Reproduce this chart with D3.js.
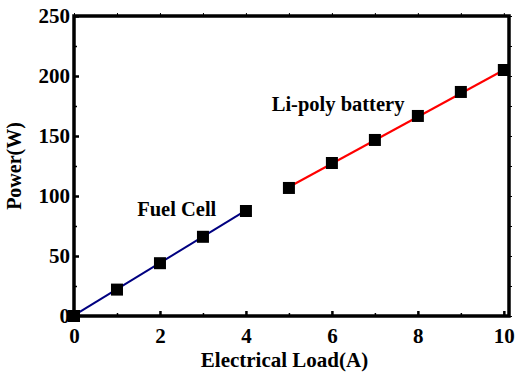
<!DOCTYPE html>
<html>
<head>
<meta charset="utf-8">
<script src="https://cdn.jsdelivr.net/npm/d3@7"></script>
<style>
  body { margin: 0; background: #fff; }
  text { font-family: "Liberation Serif", "Times New Roman", serif; font-weight: bold; fill: #000; }
</style>
</head>
<body>
<div id="chart"></div>
<script>
const fuelLoad = [0, 1, 2, 3, 4];
const fuelPower = [0, 22, 44, 66, 87.5];
const battLoad = [5, 6, 7, 8, 9, 10];
const battPower = [106.7, 127.5, 146.7, 166.7, 186.7, 205];
const fuelFit = [[0, 0.5], [4, 88]];
const battFit = [[5, 107.5], [10, 205]];
const xTicks = [0, 2, 4, 6, 8, 10];
const yTicks = [0, 50, 100, 150, 200, 250];

const margin = { top: 16, right: 9, bottom: 58, left: 74 };
const width = 518 - margin.left - margin.right;
const height = 374 - margin.top - margin.bottom;

const x = d3.scaleLinear().domain([0, 10.12]).range([0, width]);
const y = d3.scaleLinear().domain([0, 250]).range([height, 0]);

const svg = d3.select("#chart").append("svg")
    .attr("width", 518)
    .attr("height", 374)
  .append("g")
    .attr("transform", `translate(${margin.left},${margin.top})`);

const line = d3.line().x(d => x(d[0])).y(d => y(d[1]));

svg.append("path").datum(fuelFit)
    .attr("d", line).attr("fill", "none").attr("stroke", "#000080").attr("stroke-width", 2);
svg.append("path").datum(battFit)
    .attr("d", line).attr("fill", "none").attr("stroke", "#ff0000").attr("stroke-width", 2);

const pts = fuelLoad.map((v, i) => [v, fuelPower[i]])
    .concat(battLoad.map((v, i) => [v, battPower[i]]));
const s = 12;
svg.selectAll("rect.pt")
    .data(pts)
    .enter().append("rect")
    .attr("class", "pt")
    .attr("x", d => x(d[0]) - s / 2)
    .attr("y", d => y(d[1]) - s / 2)
    .attr("width", s)
    .attr("height", s)
    .attr("fill", "#000");

// axes: inward ticks on bottom/left, tiny marks on top/right
const axisStyle = w => g => {
    g.select(".domain").remove();
    g.selectAll(".tick line").attr("stroke", "#000").attr("stroke-width", w);
    g.selectAll("text").style("font-size", "21px");
};

svg.append("g")
    .attr("transform", `translate(0,${height})`)
    .call(d3.axisBottom(x).tickValues(xTicks).tickSize(-5).tickPadding(12).tickFormat(d3.format("d")))
    .call(axisStyle(2.5));
svg.append("g")
    .attr("transform", `translate(0,${height})`)
    .call(d3.axisBottom(x).tickValues([1, 3, 5, 7, 9]).tickSize(-3).tickFormat(""))
    .call(axisStyle(1.5));
svg.append("g")
    .call(d3.axisTop(x).tickValues(d3.range(0, 11)).tickSize(3).tickFormat(""))
    .call(axisStyle(1));

svg.append("g")
    .call(d3.axisLeft(y).tickValues(yTicks).tickSize(-5).tickPadding(4))
    .call(axisStyle(2.5));
svg.append("g")
    .call(d3.axisLeft(y).tickValues([25, 75, 125, 175, 225]).tickSize(-3).tickFormat(""))
    .call(axisStyle(1.5));
svg.append("g")
    .attr("transform", `translate(${width},0)`)
    .call(d3.axisRight(y).tickValues(d3.range(0, 251, 25)).tickSize(3).tickFormat(""))
    .call(axisStyle(1));

svg.append("rect")
    .attr("width", width).attr("height", height)
    .attr("fill", "none").attr("stroke", "#000").attr("stroke-width", 3.5);

svg.append("text")
    .attr("x", width / 2 - 7)
    .attr("y", height + 51)
    .attr("text-anchor", "middle")
    .style("font-size", "21px")
    .text("Electrical Load(A)");

svg.append("text")
    .attr("transform", `translate(-53,${height / 2}) rotate(-90)`)
    .attr("text-anchor", "middle")
    .style("font-size", "20px")
    .text("Power(W)");

svg.append("text")
    .attr("x", x(1.47))
    .attr("y", y(83))
    .style("font-size", "20.5px")
    .text("Fuel Cell");

svg.append("text")
    .attr("x", x(4.6))
    .attr("y", y(170.5))
    .style("font-size", "20.5px")
    .text("Li-poly battery");
</script>
</body>
</html>
